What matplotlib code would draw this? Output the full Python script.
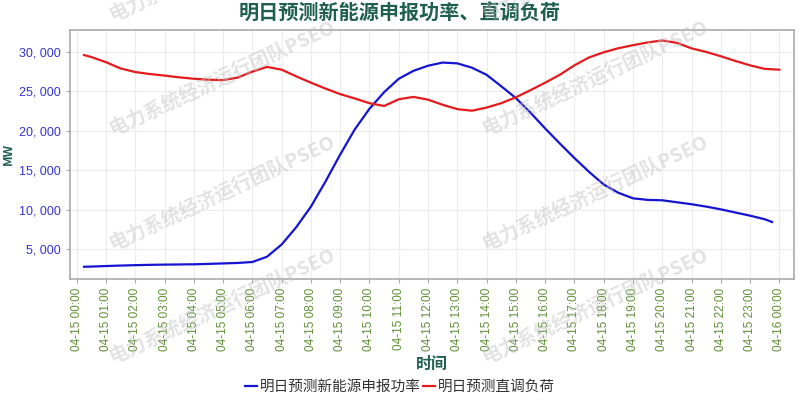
import matplotlib
matplotlib.use('Agg')
import matplotlib.pyplot as plt
from matplotlib.ticker import FuncFormatter

plt.rcParams['font.family'] = ['Noto Sans CJK SC', 'DejaVu Sans']

# 时间 (小时), 15分开始, 每半小时一个点
hours = [0.25] + [h * 0.5 for h in range(1, 49)]
hours_blue = hours[:-1] + [23.75]

# 明日预测新能源申报功率 (MW)
new_energy = [2780, 2800, 2870, 2930, 2980, 3020, 3050, 3070, 3090, 3140,
              3200, 3260, 3380, 4050, 5600, 7800, 10400, 13600, 17000, 20200,
              22800, 24900, 26600, 27600, 28250, 28650, 28550, 28000, 27100, 25650,
              24150, 22300, 20300, 18400, 16550, 14800, 13200, 12150, 11450, 11250,
              11200, 10950, 10700, 10400, 10050, 9650, 9250, 8800, 8450]

# 明日预测直调负荷 (MW)
load = [29600, 29350, 28700, 27900, 27450, 27200, 27000, 26780, 26600, 26480,
        26420, 26750, 27500, 28100, 27750, 26900, 26100, 25350, 24650, 24100,
        23500, 23150, 24000, 24300, 23950, 23300, 22750, 22550, 22950, 23500,
        24250, 25150, 26100, 27100, 28300, 29300, 29950, 30470, 30850, 31200,
        31450, 31150, 30450, 30000, 29450, 28850, 28300, 27850, 27750]

tick_hours = list(range(25))
tick_labels = ['04-15 %02d:00' % h for h in range(24)] + ['04-16 00:00']

title = '明日预测新能源申报功率、直调负荷'
series_names = ['明日预测新能源申报功率', '明日预测直调负荷']

fig = plt.figure(figsize=(8, 4), dpi=100)
ax = fig.add_axes([70 / 800, 1 - 278.5 / 400, (794 - 70) / 800, (278.5 - 29.5) / 400])

ax.plot(hours_blue, new_energy, color='#1414d2', lw=1.6, label=series_names[0], zorder=3)
ax.plot(hours, load, color='#e41a1c', lw=1.6, label=series_names[1], zorder=3)

ax.set_xlim(-0.23, 24.5)
ax.set_ylim(1290, 32840)
ax.set_xticks(tick_hours)
ax.set_xticklabels(tick_labels, rotation=90, fontsize=8.5, color='#5f8f35',
                   family='Liberation Sans')
ax.set_yticks([5000, 10000, 15000, 20000, 25000, 30000])
ax.yaxis.set_major_formatter(FuncFormatter(lambda v, p: '{:,}'.format(int(v)).replace(',', ', ')))
for t in ax.get_yticklabels():
    t.set_fontsize(9)
    t.set_color('#3535d5')
    t.set_family('Liberation Sans')

ax.tick_params(axis='both', length=3, color='#aaaaaa', width=0.8)
ax.grid(True, color='#ececec', lw=0.8, zorder=0)
ax.axvline(0, color='#bbbbbb', ls=(0, (3, 3)), lw=0.8, zorder=1)
ax.axvline(24, color='#bbbbbb', ls=(0, (3, 3)), lw=0.8, zorder=1)
for s in ax.spines.values():
    s.set_color('#aaaaaa')
    s.set_linewidth(1.2)

ax.set_ylabel('MW', fontsize=9, fontweight='bold', color='#1f5f4f')
ax.yaxis.set_label_coords((15 - 70) / 724, 0.5)
ax.set_xlabel('时间', fontsize=11.5, fontweight='bold', color='#1f5f4f', labelpad=4)
fig.text(0.5, 1 - 12 / 400, title, ha='center', va='center', fontsize=14.5,
         fontweight='bold', color='#1f5f4f')

fig.legend(loc='center', bbox_to_anchor=(0.5, 1 - 387 / 400), ncol=2, frameon=False,
           fontsize=10.5, handlelength=0.8, handletextpad=0.2, columnspacing=0.2,
           labelcolor='#333333')

# 水印
for cx in [222, 595]:
    for cy in [-37, 77, 192, 305]:
        fig.text(cx / 800, 1 - cy / 400, '电力系统经济运行团队PSEO', ha='center', va='center',
                 rotation=25, fontsize=14, fontweight='bold', color='#c0c0c0', alpha=0.45,
                 zorder=5)

fig.savefig('out.png', dpi=100)
